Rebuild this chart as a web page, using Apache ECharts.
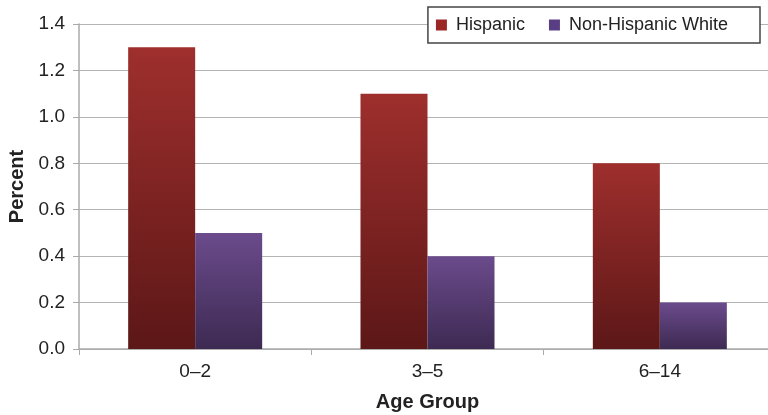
<!DOCTYPE html>
<html><head><meta charset="utf-8">
<script src="https://cdn.jsdelivr.net/npm/echarts@6/dist/echarts.min.js"></script>
<style>html,body{margin:0;padding:0;background:#fff}#c{width:768px;height:415px}</style>
</head><body><div id="c"></div>
<script>
const categories = ['0–2', '3–5', '6–14'];
const hispanic = [1.3, 1.1, 0.8];
const nonHispanicWhite = [0.5, 0.4, 0.2];
const seriesNames = ['Hispanic', 'Non-Hispanic White'];

const chart = echarts.init(document.getElementById('c'), null, {renderer: 'canvas'});
const font = 'Liberation Sans, Arial, sans-serif';
function grad(top, bottom) {
  return new echarts.graphic.LinearGradient(0, 0, 0, 1, [{offset: 0, color: top}, {offset: 1, color: bottom}]);
}
chart.setOption({
  animation: false,
  textStyle: {fontFamily: font},
  grid: {left: 79, top: 24, bottom: 66, width: 697, containLabel: false, outerBoundsMode: 'none'},
  legend: {
    right: 8, top: 7,
    padding: [9, 32, 9, 8],
    itemWidth: 11, itemHeight: 11, itemGap: 24,
    borderColor: '#444', borderWidth: 1.5, backgroundColor: '#fff',
    textStyle: {fontSize: 18, color: '#222', fontFamily: font, padding: [0, 0, 0, 4]},
    data: [
      {name: seriesNames[0], icon: 'rect', itemStyle: {color: '#9b2626'}},
      {name: seriesNames[1], icon: 'rect', itemStyle: {color: '#5a3e84'}}
    ]
  },
  xAxis: {
    type: 'category', data: categories,
    name: 'Age Group', nameLocation: 'middle', nameGap: 43,
    nameTextStyle: {fontSize: 20, fontWeight: 'bold', color: '#222'},
    axisLine: {lineStyle: {color: '#aaa', width: 1.5}},
    axisTick: {show: true, length: 6, lineStyle: {color: '#aaa'}},
    axisLabel: {fontSize: 19, color: '#222', margin: 13}
  },
  yAxis: {
    type: 'value', min: 0, max: 1.4, interval: 0.2,
    name: 'Percent', nameLocation: 'middle', nameGap: 52, nameRotate: 90,
    nameTextStyle: {fontSize: 20, fontWeight: 'bold', color: '#222'},
    axisLine: {show: true, lineStyle: {color: '#aaa', width: 1.5}},
    axisTick: {show: true, length: 6, lineStyle: {color: '#aaa'}},
    axisLabel: {fontSize: 19, color: '#222', margin: 14, formatter: v => v.toFixed(1)},
    splitLine: {lineStyle: {color: '#b4b4b4', width: 1.2}}
  },
  series: [
    {name: seriesNames[0], type: 'bar', data: hispanic, barWidth: 67, barGap: '0%',
     itemStyle: {color: grad('#9e2f2d', '#5c1717')}},
    {name: seriesNames[1], type: 'bar', data: nonHispanicWhite, barWidth: 67, barGap: '0%',
     itemStyle: {color: grad('#6b4b8c', '#3d2a52')}}
  ]
});
</script></body></html>
